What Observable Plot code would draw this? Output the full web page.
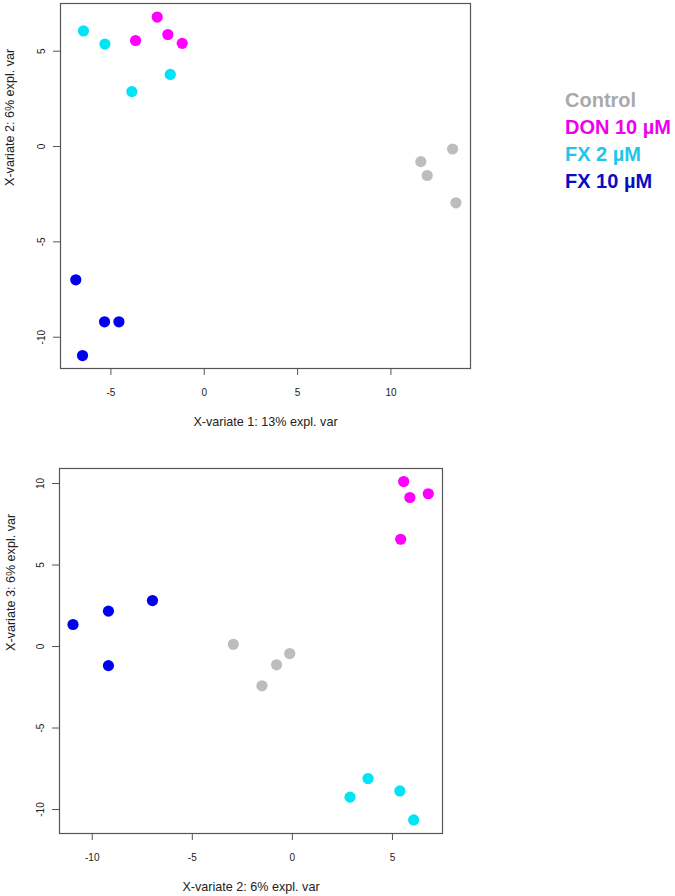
<!DOCTYPE html>
<html>
<head>
<meta charset="utf-8">
<script src="https://cdn.jsdelivr.net/npm/d3@7"></script>
<script src="https://cdn.jsdelivr.net/npm/@observablehq/plot@0.6"></script>
<style>
  html, body { margin: 0; padding: 0; background: #fff; }
  #page { position: relative; width: 675px; height: 896px; overflow: hidden; font-family: "Liberation Sans", Arial, sans-serif; }
  #top { position: absolute; left: 0; top: 0; }
  #bottom { position: absolute; left: 0; top: 440px; }
  #legend { position: absolute; left: 565px; top: 87px; font-weight: bold; font-size: 20px; line-height: 27px; white-space: nowrap; }
</style>
</head>
<body>
<div id="page">
  <div id="top"></div>
  <div id="bottom"></div>
  <div id="legend"></div>
</div>
<script>
// Groups and colours
const groups = ["Control", "DON 10 µM", "FX 2 µM", "FX 10 µM"];
const dotColors = ["#bdbdbd", "#ff00ff", "#00e5f5", "#0000ee"];
const legendColors = ["#aaaaaa", "#ee00ee", "#1fc6ea", "#0b0bc4"];

// Sample group membership (4 replicates each)
const sampleGroup = [
  "Control", "Control", "Control", "Control",
  "DON 10 µM", "DON 10 µM", "DON 10 µM", "DON 10 µM",
  "FX 2 µM", "FX 2 µM", "FX 2 µM", "FX 2 µM",
  "FX 10 µM", "FX 10 µM", "FX 10 µM", "FX 10 µM"
];
// X-variate scores
const variate1 = [13.30, 11.60, 11.94, 13.48,  -2.52, -1.95, -3.68, -1.18,  -6.47, -5.32, -1.82, -3.88,  -6.88, -6.52, -5.34, -4.57];
const variate2 = [-0.13, -0.79, -1.52, -2.95,   6.79,  5.87,  5.56,  5.41,   6.06,  5.37,  3.78,  2.88,  -6.99, -10.96, -9.19, -9.19];
const variate3 = [-0.43, -1.12, -2.41,  0.14,   9.37,  9.14, 10.12,  6.58, -10.64, -8.86, -8.10, -9.24,   2.82,  1.35,  2.17, -1.17];

// Axis ticks and labels
const ticksTopX = [-5, 0, 5, 10];
const ticksTopY = [-10, -5, 0, 5];
const ticksBotX = [-10, -5, 0, 5];
const ticksBotY = [-10, -5, 0, 5, 10];
const labelV1 = "X-variate 1: 13% expl. var";
const labelV2 = "X-variate 2: 6% expl. var";
const labelV3 = "X-variate 3: 6% expl. var";

const samples = sampleGroup.map((g, i) => ({group: g, v1: variate1[i], v2: variate2[i], v3: variate3[i]}));

const font = "Liberation Sans, Arial, Helvetica, sans-serif";
const frameColor = "#555";
const textColor = "#222";
const fmt = d => String(d); // ASCII hyphen-minus as in the original

function scorePlot({xKey, yKey, xTicks, yTicks, xLabel, yLabel, xDomain, yDomain, width, height, margins, yTitleDx}) {
  return Plot.plot({
    width, height,
    marginLeft: margins[0], marginRight: margins[1], marginTop: margins[2], marginBottom: margins[3],
    style: {fontFamily: font, fontSize: "10px", background: "white", color: textColor},
    x: {domain: xDomain, label: null},
    y: {domain: yDomain, label: null},
    color: {domain: groups, range: dotColors},
    marks: [
      Plot.frame({stroke: frameColor, strokeWidth: 1.2}),
      Plot.axisX(xTicks, {tickSize: 7, tickPadding: 13, tickFormat: fmt, stroke: frameColor, fill: textColor, fontSize: 10, label: null}),
      Plot.axisY(yTicks, {tickSize: 7, tickPadding: 9, tickRotate: -90, tickFormat: fmt, stroke: frameColor, fill: textColor, fontSize: 10, label: null}),
      Plot.dot(samples, {x: xKey, y: yKey, fill: "group", r: 5.6, stroke: null}),
      Plot.text([xLabel], {frameAnchor: "bottom", dy: 53, lineAnchor: "middle", fontSize: 12.6, fill: textColor}),
      Plot.text([yLabel], {frameAnchor: "left", dx: yTitleDx, rotate: -90, lineAnchor: "middle", fontSize: 12.6, fill: textColor})
    ]
  });
}

document.getElementById("top").appendChild(scorePlot({
  xKey: "v1", yKey: "v2", xTicks: ticksTopX, yTicks: ticksTopY, xLabel: labelV1, yLabel: labelV2,
  xDomain: [-7.70, 14.26], yDomain: [-11.64, 7.50],
  width: 480, height: 440, margins: [60, 10, 3, 72], yTitleDx: -51
}));

document.getElementById("bottom").appendChild(scorePlot({
  xKey: "v2", yKey: "v3", xTicks: ticksBotX, yTicks: ticksBotY, xLabel: labelV2, yLabel: labelV3,
  xDomain: [-11.635, 7.50], yDomain: [-11.47, 10.92],
  width: 480, height: 456, margins: [59, 38, 28, 63], yTitleDx: -49
}));

const legend = document.getElementById("legend");
groups.forEach((g, i) => {
  const d = document.createElement("div");
  d.textContent = g;
  d.style.color = legendColors[i];
  legend.appendChild(d);
});
</script>
</body>
</html>
